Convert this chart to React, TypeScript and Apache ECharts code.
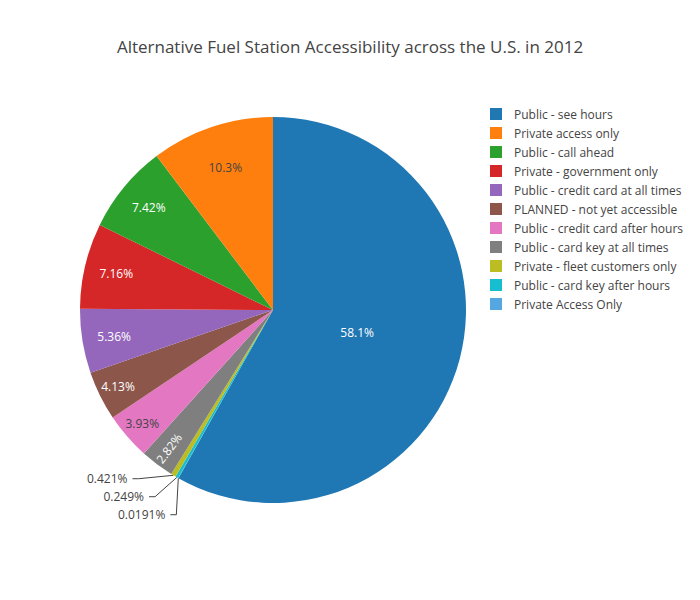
import React, { useEffect, useRef } from "react";
import * as echarts from "echarts";

const categories = [
  "Public - see hours",
  "Private access only",
  "Public - call ahead",
  "Private - government only",
  "Public - credit card at all times",
  "PLANNED - not yet accessible",
  "Public - credit card after hours",
  "Public - card key at all times",
  "Private - fleet customers only",
  "Public - card key after hours",
  "Private Access Only",
];
const shares = [58.1, 10.3, 7.42, 7.16, 5.36, 4.13, 3.93, 2.82, 0.421, 0.249, 0.0191];
const colors = [
  "#1f77b4", "#ff7f0e", "#2ca02c", "#d62728", "#9467bd", "#8c564b",
  "#e377c2", "#7f7f7f", "#bcbd22", "#17becf", "#55a7e2",
];
// drawing order, clockwise from 12 o'clock
const pieOrder = [0, 10, 9, 8, 7, 6, 5, 4, 3, 2, 1];
const darkLabel = new Set([1, 6]);
const outsideLabel = new Set([8, 9, 10]);
// inner radius of transparent label rings (label sits mid-ring) -> which slices
const labelRings: { inner: number; outer: number; items: number[] }[] = [
  { inner: 0, outer: 168, items: [0] },
  { inner: 101, outer: 193, items: [1] },
  { inner: 123, outer: 193, items: [2, 3, 4] },
  { inner: 147, outer: 193, items: [5, 6, 7] },
];

const FONT = '"Open Sans", "Noto Sans", sans-serif';
const CENTER = [273, 310];
const R = 193;

export default function App() {
  const ref = useRef<HTMLDivElement>(null);
  useEffect(() => {
    if (!ref.current) return;
    const chart = echarts.init(ref.current, undefined, { renderer: "svg" });
    const fmt = (p: any) => `${p.value}%`;
    const mainData = pieOrder.map((i) => {
      const item: any = {
        name: categories[i],
        value: shares[i],
        itemStyle: { color: colors[i] },
      };
      if (outsideLabel.has(i)) {
        item.label = { show: true, position: "outside", color: "#444", lineHeight: 16 };
        item.labelLine = { show: true, length: 4, length2: 6, lineStyle: { color: "#444", width: 1 } };
      } else {
        item.label = { show: false };
        item.labelLine = { show: false };
      }
      return item;
    });
    const ringSeries = labelRings.map((ring) => ({
      type: "pie",
      center: CENTER,
      radius: [ring.inner, ring.outer],
      startAngle: 90,
      clockwise: true,
      silent: true,
      legendHoverLink: false,
      label: { fontFamily: FONT, fontSize: 12, formatter: fmt },
      labelLine: { show: false },
      emphasis: { disabled: true },
      data: pieOrder.map((i) => {
        const item: any = {
          name: categories[i],
          value: shares[i],
          itemStyle: { color: "rgba(0,0,0,0)" },
        };
        if (ring.items.includes(i)) {
          item.label = {
            show: true,
            position: "inside",
            color: darkLabel.has(i) ? "#444" : "#fff",
          };
          if (i === 7) item.label.rotate = 53;
        } else {
          item.label = { show: false };
        }
        return item;
      }),
    }));
    chart.setOption({
      animation: false,
      textStyle: { fontFamily: FONT },
      title: {
        text: "Alternative Fuel Station Accessibility across the U.S. in 2012",
        left: "center",
        top: 33,
        textStyle: { fontFamily: FONT, fontSize: 17, fontWeight: "normal", color: "#444" },
      },
      legend: {
        orient: "vertical",
        left: 485,
        top: 103,
        data: categories,
        icon: "rect",
        itemWidth: 12,
        itemHeight: 12,
        itemGap: 7,
        textStyle: {
          fontFamily: FONT,
          fontSize: 12,
          color: "#444",
          lineHeight: 12,
          padding: [0, 0, 0, 7],
        },
      },
      series: [
        {
          type: "pie",
          center: CENTER,
          radius: [0, R],
          startAngle: 90,
          clockwise: true,
          avoidLabelOverlap: true,
          label: { fontFamily: FONT, fontSize: 12, formatter: fmt },
          emphasis: { disabled: true },
          data: mainData,
        },
        ...ringSeries,
      ],
    });
    return () => chart.dispose();
  }, []);
  return (
    <div
      ref={ref}
      style={{ position: "fixed", left: 0, top: 0, width: 700, height: 600, background: "#fff" }}
    />
  );
}
